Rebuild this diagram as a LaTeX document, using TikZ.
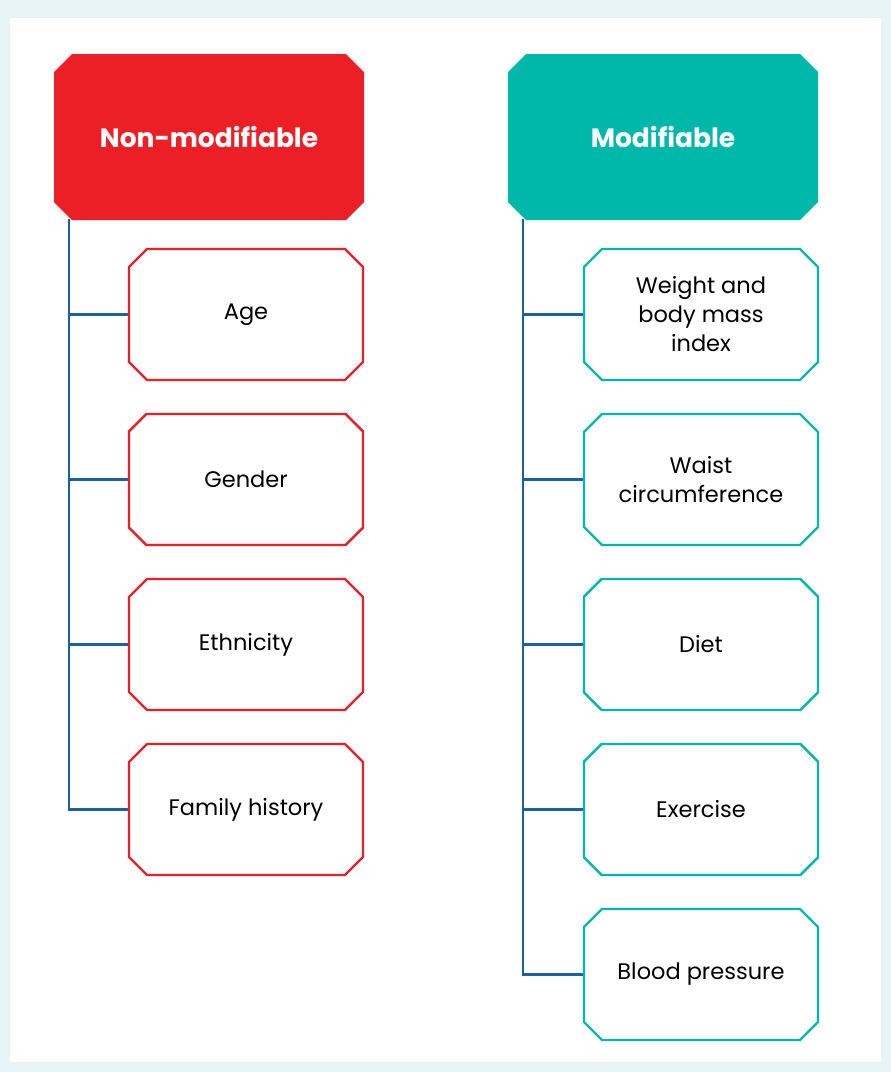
\documentclass[tikz,border=0pt]{standalone}
\usepackage{fontspec}
\setmainfont{Poppins}
\usetikzlibrary{positioning,shapes.misc}
\definecolor{riskred}{HTML}{ED1F26}
\definecolor{riskteal}{HTML}{00B8AA}
\definecolor{linkblue}{HTML}{1B5FAA}
\definecolor{panelbg}{HTML}{E6F4F5}
\tikzset{
  hdrbox/.style={chamfered rectangle,chamfered rectangle xsep=9pt,chamfered rectangle ysep=9pt,
    minimum width=310pt,minimum height=166pt,inner sep=0pt,text=white,
    font=\fontsize{26.5}{32}\selectfont\bfseries},
  itembox/.style={chamfered rectangle,chamfered rectangle xsep=9pt,chamfered rectangle ysep=9pt,
    draw,line width=2.4pt,fill=white,minimum width=234pt,minimum height=131pt,inner sep=0pt,
    align=center,text=black,font=\fontsize{22.5}{29}\selectfont},
  redbox/.style={itembox,draw=riskred},
  tealbox/.style={itembox,draw=riskteal},
  link/.style={draw=linkblue,line width=2.6pt}
}
\begin{document}
\begin{tikzpicture}[x=1pt,y=-1pt]
	\fill[panelbg](0,0) rectangle (891,1072);
	\fill[white](10,18) rectangle (881,1062);
	% left column
	\node[hdrbox,fill=riskred] (nonmod) at (209,137) {Non-modifiable};
	\node[redbox] (age) at (246,314.5) {Age};
	\node[redbox,below=31.6pt of age] (gender) {Gender};
	\node[redbox,below=31.6pt of gender] (ethn) {Ethnicity};
	\node[redbox,below=31.6pt of ethn] (family) {Family history};
	% right column
	\node[hdrbox,fill=riskteal] (mod) at (663,137) {Modifiable};
	\node[tealbox] (weight) at (701,314.5) {Weight and\\body mass\\index};
	\node[tealbox,below=31.6pt of weight] (waist) {Waist\\circumference};
	\node[tealbox,below=31.6pt of waist] (diet) {Diet};
	\node[tealbox,below=31.6pt of diet] (exer) {Exercise};
	\node[tealbox,below=31.6pt of exer] (bp) {Blood pressure};
	% connectors
	\coordinate (ltrunk) at (69,219);
	\coordinate (rtrunk) at (523,219);
	\draw[link](ltrunk) |- (family.west);
	\foreach \n in {age,gender,ethn}
		\draw[link](\n.west -| ltrunk) -- (\n.west);
	\draw[link](rtrunk) |- (bp.west);
	\foreach \n in {weight,waist,diet,exer}
		\draw[link](\n.west -| rtrunk) -- (\n.west);
\end{tikzpicture}
\end{document}
